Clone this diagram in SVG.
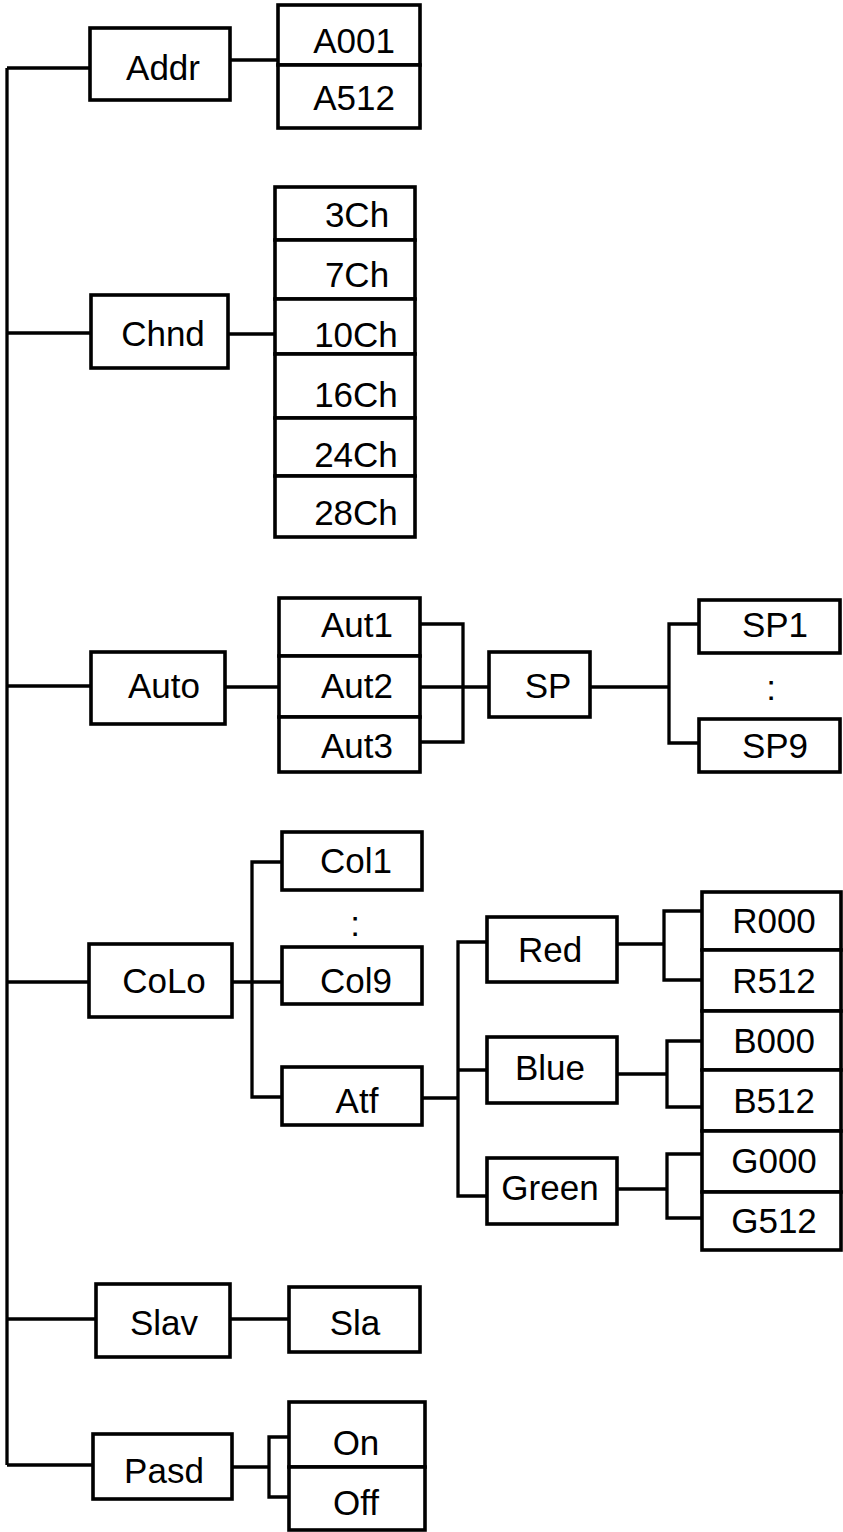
<svg xmlns="http://www.w3.org/2000/svg" width="843" height="1532" viewBox="0 0 843 1532">
<style>
rect{fill:#fff;stroke:#000;stroke-width:3.6}
.c{fill:none;stroke:#000;stroke-width:3.3}
text{font-family:"Liberation Sans",Arial,sans-serif;font-size:35px;fill:#000;text-anchor:middle}
</style>
<rect x="0" y="0" width="843" height="1532" style="stroke:none"/>
<g id="connectors">
<path class="c" d="M7,68 V1465 M7,68 H90 M7,333 H91 M7,686 H91 M7,982 H89 M7,1319 H96 M7,1465 H93"/>
<path class="c" d="M230,60 H278"/>
<path class="c" d="M228,334 H275"/>
<path class="c" d="M225,687 H279 M420,624 H463 V742 H420 M420,687 H489"/>
<path class="c" d="M590,687 H669 M699,624 H669 V743 H699"/>
<path class="c" d="M232,982 H282 M282,862 H252 V1097 H282"/>
<path class="c" d="M422,1098 H458 M487,942 H458 V1196 H487 M458,1070 H487"/>
<path class="c" d="M617,944 H664 M702,911 H664 V980 H702"/>
<path class="c" d="M617,1074 H667 M702,1041 H667 V1107 H702"/>
<path class="c" d="M617,1189 H667 M702,1154 H667 V1218 H702"/>
<path class="c" d="M230,1319 H289"/>
<path class="c" d="M232,1467 H269 M289,1437 H269 V1497 H289"/>
</g>
<g id="addr"><rect x="90" y="28" width="140" height="72"/><text x="163" y="80">Addr</text></g>
<g id="a001"><rect x="278" y="5" width="142" height="60"/><text x="354" y="53">A001</text></g>
<g id="a512"><rect x="278" y="65" width="142" height="63"/><text x="354" y="110">A512</text></g>
<g id="chnd"><rect x="91" y="295" width="137" height="73"/><text x="163" y="346">Chnd</text></g>
<g id="ch3"><rect x="275" y="187" width="140" height="53"/><text x="357" y="227">3Ch</text></g>
<g id="ch7"><rect x="275" y="240" width="140" height="59"/><text x="357" y="287">7Ch</text></g>
<g id="ch10"><rect x="275" y="299" width="140" height="55"/><text x="356" y="347">10Ch</text></g>
<g id="ch16"><rect x="275" y="354" width="140" height="64"/><text x="356" y="407">16Ch</text></g>
<g id="ch24"><rect x="275" y="418" width="140" height="58"/><text x="356" y="467">24Ch</text></g>
<g id="ch28"><rect x="275" y="476" width="140" height="61"/><text x="356" y="525">28Ch</text></g>
<g id="auto"><rect x="91" y="652" width="134" height="72"/><text x="164" y="698">Auto</text></g>
<g id="aut1"><rect x="279" y="598" width="141" height="58"/><text x="357" y="637">Aut1</text></g>
<g id="aut2"><rect x="279" y="656" width="141" height="61"/><text x="357" y="698">Aut2</text></g>
<g id="aut3"><rect x="279" y="717" width="141" height="55"/><text x="357" y="758">Aut3</text></g>
<g id="sp"><rect x="489" y="652" width="101" height="65"/><text x="548" y="698">SP</text></g>
<g id="sp1"><rect x="699" y="600" width="141" height="53"/><text x="775" y="637">SP1</text></g>
<g id="spdots"><text x="771" y="700">:</text></g>
<g id="sp9"><rect x="699" y="719" width="141" height="53"/><text x="775" y="758">SP9</text></g>
<g id="colo"><rect x="89" y="944" width="143" height="73"/><text x="164" y="993">CoLo</text></g>
<g id="col1"><rect x="282" y="832" width="140" height="58"/><text x="356" y="873">Col1</text></g>
<g id="coldots"><text x="355" y="936">:</text></g>
<g id="col9"><rect x="282" y="947" width="140" height="57"/><text x="356" y="993">Col9</text></g>
<g id="atf"><rect x="282" y="1067" width="140" height="58"/><text x="357" y="1113">Atf</text></g>
<g id="red"><rect x="487" y="917" width="130" height="65"/><text x="550" y="962">Red</text></g>
<g id="blue"><rect x="487" y="1037" width="130" height="66"/><text x="550" y="1080">Blue</text></g>
<g id="green"><rect x="487" y="1158" width="130" height="66"/><text x="550" y="1200">Green</text></g>
<g id="r000"><rect x="702" y="892" width="139" height="58"/><text x="774" y="933">R000</text></g>
<g id="r512"><rect x="702" y="950" width="139" height="61"/><text x="774" y="993">R512</text></g>
<g id="b000"><rect x="702" y="1011" width="139" height="59"/><text x="774" y="1053">B000</text></g>
<g id="b512"><rect x="702" y="1070" width="139" height="61"/><text x="774" y="1113">B512</text></g>
<g id="g000"><rect x="702" y="1131" width="139" height="61"/><text x="774" y="1173">G000</text></g>
<g id="g512"><rect x="702" y="1192" width="139" height="58"/><text x="774" y="1233">G512</text></g>
<g id="slav"><rect x="96" y="1284" width="134" height="73"/><text x="164" y="1335">Slav</text></g>
<g id="sla"><rect x="289" y="1287" width="131" height="65"/><text x="355" y="1335">Sla</text></g>
<g id="pasd"><rect x="93" y="1434" width="139" height="65"/><text x="164" y="1483">Pasd</text></g>
<g id="on"><rect x="289" y="1402" width="136" height="65"/><text x="356" y="1455">On</text></g>
<g id="off"><rect x="289" y="1467" width="136" height="63"/><text x="356" y="1515">Off</text></g>
</svg>
